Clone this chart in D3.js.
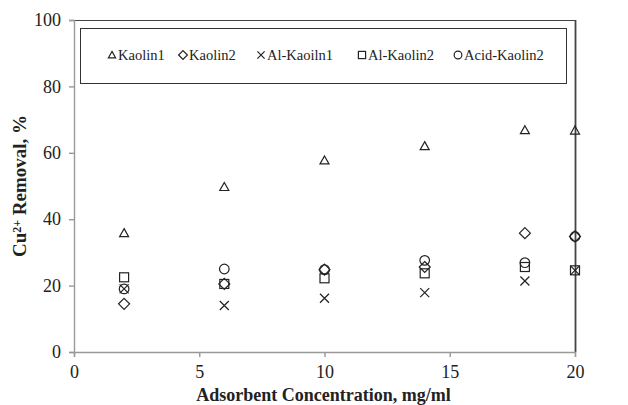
<!DOCTYPE html>
<html>
<head>
<meta charset="utf-8">
<script src="https://cdn.jsdelivr.net/npm/d3@7"></script>
<style>
body { margin: 0; background: #fff; }
svg text { font-family: "Liberation Serif", "Times New Roman", serif; }
</style>
</head>
<body>
<svg width="628" height="405"></svg>
<script>
// data
var conc = [2, 6, 10, 14, 18, 20];
var kaolin1 = [35.8, 49.7, 57.7, 62, 66.8, 66.7];
var kaolin2 = [14.5, 20.5, 24.8, 25.6, 35.8, 34.8];
var alKaoiln1 = [19, 14, 16.2, 17.9, 21.4, 24.6];
var alKaolin2 = [22.5, 20.5, 22.2, 23.7, 25.6, 24.6];
var acidKaolin2 = [19, 25, 24.8, 27.6, 26.9, 34.8];
var seriesNames = ["Kaolin1", "Kaolin2", "Al-Kaoiln1", "Al-Kaolin2", "Acid-Kaolin2"];
var xTicks = [0, 5, 10, 15, 20];
var yTicks = [0, 20, 40, 60, 80, 100];

var drawChart = function()
{
  var series = [
    { name: seriesNames[0], values: kaolin1, shape: "triangle" },
    { name: seriesNames[1], values: kaolin2, shape: "diamond" },
    { name: seriesNames[2], values: alKaoiln1, shape: "cross" },
    { name: seriesNames[3], values: alKaolin2, shape: "square" },
    { name: seriesNames[4], values: acidKaolin2, shape: "circle" }
  ];

  var pLeft = 74, pRight = 575, pTop = 20, pBottom = 352;

  var svg = d3.select("svg");

  var x = d3.scaleLinear().domain([0, 20]).range([pLeft, pRight]);
  var y = d3.scaleLinear().domain([0, 100]).range([pBottom, pTop]);

  // frame top / right
  svg.append("line").attr("x1", pLeft).attr("x2", pRight).attr("y1", pTop + 0.5).attr("y2", pTop + 0.5)
    .attr("stroke", "#444").attr("stroke-width", 1.2);
  svg.append("line").attr("x1", pRight + 0.5).attr("x2", pRight + 0.5).attr("y1", pTop).attr("y2", pBottom)
    .attr("stroke", "#444").attr("stroke-width", 1.8);

  var xAxis = svg.append("g")
    .attr("transform", "translate(0," + pBottom + ")")
    .call(d3.axisBottom(x).tickValues(xTicks).tickSize(5).tickPadding(8));
  var yAxis = svg.append("g")
    .attr("transform", "translate(" + pLeft + ",0)")
    .call(d3.axisLeft(y).tickValues(yTicks).tickSize(5).tickPadding(8));

  [xAxis, yAxis].forEach(function(a) {
    a.attr("font-family", null).attr("font-size", null);
    a.selectAll("path,line").attr("stroke", "#999").attr("stroke-width", 1.4);
    a.selectAll("text").attr("fill", "#222").style("font-size", "18px");
  });

  function drawMarker(g, shape, cx, cy, k) {
    var s = g.append("g").attr("transform", "translate(" + cx + "," + cy + ") scale(" + k + ")")
      .attr("fill", "none").attr("stroke", "#222").attr("stroke-width", 1.2 / k);
    if (shape == "triangle") {
      s.append("path").attr("d", "M0,-4.5L4.5,3.5L-4.5,3.5Z");
    } else if (shape == "diamond") {
      s.append("path").attr("d", "M0,-5.5L5.5,0L0,5.5L-5.5,0Z");
    } else if (shape == "cross") {
      s.append("path").attr("d", "M-4.5,-4.5L4.5,4.5M4.5,-4.5L-4.5,4.5");
    } else if (shape == "square") {
      s.append("rect").attr("x", -4.5).attr("y", -4.5).attr("width", 9).attr("height", 9);
    } else {
      s.append("circle").attr("r", 4.8);
    }
  }

  var pts = svg.append("g");
  series.forEach(function(ser) {
    ser.values.forEach(function(v, i) {
      drawMarker(pts, ser.shape, x(conc[i]), y(v), 1);
    });
  });

  // legend
  var lg = svg.append("g");
  lg.append("rect").attr("x", 80.5).attr("y", 28.5).attr("width", 486).attr("height", 55)
    .attr("fill", "#fff").attr("stroke", "#333").attr("stroke-width", 1);
  var legX = [112, 183, 261, 362, 458];
  series.forEach(function(ser, i) {
    drawMarker(lg, ser.shape, legX[i], 55, 0.8);
    lg.append("text").attr("x", legX[i] + 6).attr("y", 60)
      .style("font-size", "14.5px").attr("fill", "#222").text(ser.name);
  });

  // axis titles
  svg.append("text").attr("x", (pLeft + pRight) / 2 - 1).attr("y", 401)
    .attr("text-anchor", "middle").style("font-size", "18px").style("font-weight", "bold")
    .attr("fill", "#222").text("Adsorbent Concentration, mg/ml");

  var yt = svg.append("text").attr("transform", "translate(26,186) rotate(-90)")
    .attr("text-anchor", "middle").style("font-size", "19px").style("font-weight", "bold")
    .attr("fill", "#222");
  yt.append("tspan").text("Cu");
  yt.append("tspan").attr("dy", "-0.45em").style("font-size", "12px").text("2+");
  yt.append("tspan").attr("dy", "0.3em").text(" Removal, %");
}

drawChart();
</script>
</body>
</html>
